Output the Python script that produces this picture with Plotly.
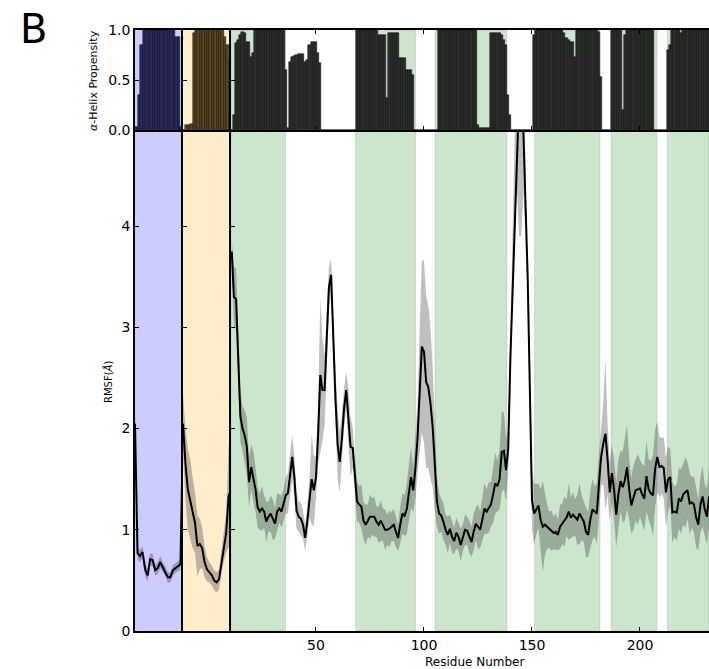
import plotly.graph_objects as go
from plotly.subplots import make_subplots

# ---------------- data ----------------
# Domain 1 (blue) and domain 2 (orange): positional index within each domain
dom1_idx = list(range(1, 21))
dom1_rmsf = [2.05, 0.77, 0.74, 0.78, 0.61, 0.55, 0.71, 0.70, 0.60, 0.62,
             0.68, 0.63, 0.59, 0.53, 0.53, 0.60, 0.62, 0.64, 0.66, 2.00]
dom1_sd = [0.10, 0.06, 0.06, 0.06, 0.07, 0.06, 0.06, 0.06, 0.05, 0.06,
           0.06, 0.05, 0.05, 0.05, 0.05, 0.05, 0.05, 0.05, 0.06, 0.10]
dom1_bar_idx = list(range(1, 20))
dom1_helix = [0.03, 0.35, 0.85, 1, 1, 1, 1, 1, 1, 1,
              1, 1, 1, 1, 1, 1, 0.93, 0.93, 0.03]

dom2_idx = list(range(1, 22))
dom2_rmsf = [2.05, 1.66, 1.40, 1.30, 1.17, 1.07, 0.84, 0.86, 0.82, 0.68,
             0.61, 0.58, 0.55, 0.50, 0.48, 0.51, 0.68, 0.84, 0.97, 1.33, 1.40]
dom2_sd = [0.30, 0.35, 0.40, 0.40, 0.35, 0.30, 0.30, 0.25, 0.20, 0.15,
           0.12, 0.10, 0.10, 0.10, 0.10, 0.10, 0.12, 0.15, 0.20, 0.50, 0.60]
dom2_bar_idx = list(range(1, 21))
dom2_helix = [0.0, 0.05, 0.05, 0.06, 0.97, 1, 1, 1, 1, 1,
              1, 1, 1, 1, 1, 1, 1, 0.93, 0.85, 0.70]

# Domain 3: residue numbers
residues = list(range(11, 233))
rmsf = [
    3.75, 3.30, 3.28, 2.78, 2.12, 2.00, 1.93, 1.82, 1.47, 1.62,
    1.52, 1.40, 1.22, 1.18, 1.21, 1.18, 1.08, 1.13, 1.16, 1.10,
    1.06, 1.18, 1.21, 1.18, 1.25, 1.34, 1.36, 1.55, 1.72, 1.52,
    1.19, 1.13, 1.11, 1.05, 0.92, 1.09, 1.32, 1.50, 1.39, 1.52,
    1.95, 2.53, 2.38, 2.38, 2.90, 3.40, 3.52, 2.87, 2.30, 1.85,
    1.67, 1.90, 2.20, 2.38, 2.12, 1.82, 1.81, 1.52, 1.28, 1.25,
    1.23, 1.09, 1.05, 1.09, 1.13, 1.13, 1.13, 1.08, 1.05, 1.09,
    1.05, 1.00, 1.00, 1.01, 1.03, 1.05, 0.98, 0.92, 1.05, 1.16,
    1.14, 1.20, 1.36, 1.52, 1.39, 1.60, 1.90, 2.38, 2.81, 2.76,
    2.46, 2.41, 2.25, 2.02, 1.59, 1.28, 1.16, 1.14, 1.08, 1.00,
    0.95, 1.01, 0.93, 0.89, 0.97, 0.93, 0.85, 0.92, 1.00, 0.99,
    0.93, 0.88, 0.98, 1.06, 1.03, 1.00, 1.10, 1.21, 1.18, 1.22,
    1.25, 1.35, 1.46, 1.43, 1.50, 1.77, 1.78, 1.59, 1.80, 2.70,
    3.50, 4.30, 5.00, 5.70, 5.90, 4.95, 4.20, 3.50, 2.40, 1.29,
    1.16, 1.20, 1.24, 1.10, 1.03, 1.05, 1.03, 1.00, 0.99, 0.97,
    0.98, 0.95, 1.03, 1.06, 1.08, 1.12, 1.18, 1.12, 1.15, 1.12,
    1.10, 1.16, 1.12, 1.08, 0.98, 0.95, 1.10, 1.20, 1.18, 1.16,
    1.45, 1.72, 1.85, 1.95, 1.69, 1.37, 1.56, 1.40, 1.15, 1.35,
    1.48, 1.42, 1.49, 1.62, 1.40, 1.24, 1.32, 1.39, 1.40, 1.41,
    1.35, 1.31, 1.53, 1.40, 1.36, 1.34, 1.60, 1.72, 1.62, 1.63,
    1.61, 1.37, 1.50, 1.52, 1.17, 1.18, 1.17, 1.31, 1.28, 1.35,
    1.37, 1.39, 1.26, 1.27, 1.25, 1.12, 1.05, 1.25, 1.33, 1.20,
    1.13, 1.33,
]
rmsf_sd = [
    0.12, 0.30, 0.30, 0.28, 0.25, 0.22, 0.25, 0.28, 0.25, 0.22,
    0.25, 0.22, 0.20, 0.18, 0.22, 0.16, 0.20, 0.15, 0.18, 0.20,
    0.15, 0.18, 0.14, 0.16, 0.15, 0.18, 0.20, 0.22, 0.22, 0.20,
    0.18, 0.15, 0.16, 0.14, 0.13, 0.15, 0.20, 0.45, 0.35, 0.20,
    0.30, 0.75, 0.50, 0.35, 0.30, 0.20, 0.15, 0.20, 0.30, 0.35,
    0.30, 0.25, 0.20, 0.18, 0.28, 0.30, 0.20, 0.20, 0.20, 0.18,
    0.22, 0.18, 0.20, 0.16, 0.22, 0.18, 0.20, 0.15, 0.18, 0.20,
    0.16, 0.20, 0.15, 0.18, 0.14, 0.16, 0.15, 0.13, 0.18, 0.20,
    0.20, 0.25, 0.28, 0.30, 0.22, 0.30, 0.35, 0.60, 0.85, 0.90,
    0.85, 0.80, 0.75, 0.60, 0.40, 0.25, 0.20, 0.16, 0.18, 0.15,
    0.18, 0.14, 0.16, 0.13, 0.15, 0.14, 0.16, 0.13, 0.15, 0.14,
    0.16, 0.15, 0.18, 0.16, 0.22, 0.18, 0.22, 0.25, 0.22, 0.25,
    0.22, 0.28, 0.30, 0.25, 0.30, 0.40, 0.38, 0.30, 0.25, 0.25,
    0.25, 0.30, 0.60, 1.80, 2.00, 0.60, 0.30, 0.25, 0.25, 0.30,
    0.30, 0.25, 0.22, 0.30, 0.45, 0.30, 0.22, 0.18, 0.20, 0.16,
    0.18, 0.15, 0.22, 0.20, 0.25, 0.18, 0.28, 0.20, 0.22, 0.18,
    0.25, 0.30, 0.22, 0.20, 0.25, 0.22, 0.28, 0.30, 0.25, 0.30,
    0.30, 0.28, 0.40, 0.75, 0.35, 0.30, 0.28, 0.30, 0.32, 0.35,
    0.30, 0.35, 0.40, 0.42, 0.30, 0.28, 0.32, 0.30, 0.35, 0.28,
    0.30, 0.32, 0.35, 0.30, 0.32, 0.40, 0.38, 0.35, 0.30, 0.28,
    0.30, 0.35, 0.32, 0.28, 0.30, 0.25, 0.28, 0.30, 0.32, 0.30,
    0.35, 0.28, 0.30, 0.25, 0.28, 0.30, 0.25, 0.28, 0.30, 0.25,
    0.28, 0.30,
]
helix = [
    0.00, 0.15, 0.87, 0.90, 0.95, 0.98, 0.97, 0.88, 0.88, 0.73,
    0.77, 1, 1, 1, 1, 1, 1, 1, 1, 1,
    1, 1, 1, 1, 1, 0.60, 0.02, 0.68, 0.73, 0.74,
    0.75, 0.76, 0.76, 0.76, 0.68, 0.70, 0.85, 0.88, 0.88, 0.88,
    0.77, 0.67, 0, 0, 0, 0, 0, 0, 0, 0,
    0, 0, 0, 0, 0, 0, 0, 0, 1, 1,
    1, 1, 1, 1, 1, 1, 1, 1, 0.95, 0.95,
    0.95, 0.95, 0.32, 0.97, 0.97, 0.97, 0.97, 0.97, 0.72, 0.72,
    0.72, 0.60, 0.60, 0.60, 0.55, 0, 0, 0, 0, 0,
    0, 0, 0, 0, 0, 0, 1, 1, 1, 1,
    1, 1, 1, 1, 1, 1, 1, 1, 1, 1,
    1, 1, 1, 1, 0.05, 0.02, 0.02, 0.02, 0.02, 0.02,
    0.97, 0.97, 0.97, 0.97, 0.97, 0.95, 0.90, 0.85, 0.35, 0.15,
    0, 0, 0, 0, 0, 0, 0, 0, 0, 0,
    0.95, 1, 1, 1, 1, 1, 1, 1, 1, 1,
    1, 1, 1, 1, 0.97, 0.92, 0.90, 0.88, 0.88, 0.73,
    1, 1, 1, 1, 1, 1, 1, 1, 1, 1,
    0.98, 0.53, 0, 0, 0, 0, 1, 1, 1, 1,
    1, 0.20, 0.95, 1, 1, 1, 1, 1, 1, 1,
    1, 1, 1, 1, 1, 1, 0, 0, 0, 0,
    0, 0, 0.80, 0.85, 1, 1, 1, 1, 0.97, 1,
    1, 1, 1, 1, 1, 1, 1, 1, 1, 1,
    1, 1,
]
# helical segments of domain 3 (residue ranges shaded green)
helix_start = [10.0, 68.3, 105.1, 151.2, 186.6, 212.7]
helix_end = [35.9, 96.1, 138.4, 181.5, 207.9, 240.0]

x_ticks = [50, 100, 150, 200]
rmsf_ticks = [0, 1, 2, 3, 4]
helix_ticks = [0.0, 0.5, 1.0]
helix_ticklabels = ["0.0", "0.5", "1.0"]

# ---------------- styling ----------------
X3_RANGE = [10.65, 231.95]
RMSF_RANGE = [0, 4.95]
BLUE_BG = "#ccccff"
ORANGE_BG = "#ffedcc"
GREEN_BG = "#cce5cc"
BAND = "rgba(0,0,0,0.25)"
FONT = "DejaVu Sans"

fig = make_subplots(rows=2, cols=3, column_widths=[48, 48, 478],
                    row_heights=[100, 501], horizontal_spacing=0,
                    vertical_spacing=0)


def band_poly(xs, m, s):
    up = [a + b for a, b in zip(m, s)]
    lo = [a - b for a, b in zip(m, s)]
    return list(xs) + list(xs)[::-1], up + lo[::-1]


# top row bars
fig.add_trace(go.Bar(x=dom1_bar_idx, y=dom1_helix, width=1, offset=0,
                     marker=dict(color="#2b2b66", line=dict(color="black", width=0.5))),
              row=1, col=1)
fig.add_trace(go.Bar(x=dom2_bar_idx, y=dom2_helix, width=1, offset=0,
                     marker=dict(color="#5e4824", line=dict(color="black", width=0.5))),
              row=1, col=2)
fig.add_trace(go.Bar(x=residues, y=helix, width=1,
                     marker=dict(color="#303030", line=dict(color="black", width=0.5))),
              row=1, col=3)

# bottom row: band + mean line
for c, (xs, m, s) in enumerate([(dom1_idx, dom1_rmsf, dom1_sd),
                                (dom2_idx, dom2_rmsf, dom2_sd),
                                (residues, rmsf, rmsf_sd)], start=1):
    bx, by = band_poly(xs, m, s)
    fig.add_trace(go.Scatter(x=bx, y=by, fill="toself", fillcolor=BAND,
                             mode="lines", line=dict(width=0), hoverinfo="skip"),
                  row=2, col=c)
    fig.add_trace(go.Scatter(x=xs, y=m, mode="lines",
                             line=dict(color="black", width=2)),
                  row=2, col=c)

# background shading
shapes = []
for xr, yr in [("x", "y"), ("x4", "y4")]:
    shapes.append(dict(type="rect", xref=xr + " domain", yref=yr + " domain",
                       x0=0, x1=1, y0=0, y1=1, fillcolor=BLUE_BG,
                       line=dict(width=0), layer="below"))
for xr, yr in [("x2", "y2"), ("x5", "y5")]:
    shapes.append(dict(type="rect", xref=xr + " domain", yref=yr + " domain",
                       x0=0, x1=1, y0=0, y1=1, fillcolor=ORANGE_BG,
                       line=dict(width=0), layer="below"))
for xr, yr in [("x3", "y3"), ("x6", "y6")]:
    for a, b in zip(helix_start, helix_end):
        shapes.append(dict(type="rect", xref=xr, yref=yr + " domain",
                           x0=max(a, X3_RANGE[0]), x1=min(b, X3_RANGE[1]),
                           y0=0, y1=1, fillcolor=GREEN_BG,
                           line=dict(width=1, color="rgba(0,0,0,0.10)"),
                           layer="below"))
fig.update_layout(shapes=shapes)

tick_common = dict(ticklen=4, tickwidth=1, tickcolor="black",
                   showgrid=False, zeroline=False, linecolor="black",
                   linewidth=1.5,
                   tickfont=dict(family=FONT, size=14, color="black"))

# x axes: top row draws both panel borders (its bottom = panel divider)
for c, rng in [(1, [1, 20]), (2, [1, 21])]:
    fig.update_xaxes(row=1, col=c, range=rng, showline=True, mirror=True,
                     ticks="", showticklabels=False, **tick_common)
    fig.update_xaxes(row=2, col=c, range=rng, showline=True, mirror=False,
                     ticks="", showticklabels=False, **tick_common)
fig.update_xaxes(row=1, col=3, range=X3_RANGE, tickvals=x_ticks,
                 showline=True, mirror="ticks", ticks="inside",
                 showticklabels=False, **tick_common)
fig.update_xaxes(row=2, col=3, range=X3_RANGE, tickvals=x_ticks,
                 showline=True, mirror=False, ticks="inside",
                 showticklabels=True, **tick_common)

# y axes: each column draws only its own left spine
fig.update_yaxes(row=1, col=1, range=[0, 1], tickvals=helix_ticks,
                 ticktext=helix_ticklabels, showline=True, mirror=False,
                 ticks="inside", **tick_common)
fig.update_yaxes(row=2, col=1, range=RMSF_RANGE, tickvals=rmsf_ticks,
                 showline=True, mirror=False, ticks="inside", **tick_common)
for c in (2, 3):
    fig.update_yaxes(row=1, col=c, range=[0, 1], tickvals=helix_ticks,
                     showticklabels=False, showline=True, mirror=False,
                     ticks="inside", **tick_common)
    fig.update_yaxes(row=2, col=c, range=RMSF_RANGE, tickvals=rmsf_ticks,
                     showticklabels=False, showline=True, mirror=False,
                     ticks="inside", **tick_common)

W, H = 709, 669
ML, MR, MT, MB = 135, 0, 30, 38
PW, PH = W - ML - MR, H - MT - MB


def px(x):
    return (x - ML) / PW


def py(y):
    return (H - MB - y) / PH


annotations = [
    dict(text="B", x=px(33), y=py(29), xref="paper", yref="paper",
         showarrow=False, font=dict(family=FONT, size=40, color="black"),
         xanchor="center", yanchor="middle"),
    dict(text="<i>α</i>-Helix Propensity", x=px(93), y=py(81), xref="paper",
         yref="paper", showarrow=False, textangle=-90,
         font=dict(family=FONT, size=11, color="black"),
         xanchor="center", yanchor="middle"),
    dict(text="RMSF(<i>Å</i>)", x=px(108), y=py(382), xref="paper",
         yref="paper", showarrow=False, textangle=-90,
         font=dict(family=FONT, size=10, color="black"),
         xanchor="center", yanchor="middle"),
    dict(text="Residue Number", x=px(474), y=py(662), xref="paper",
         yref="paper", showarrow=False,
         font=dict(family=FONT, size=12, color="black"),
         xanchor="center", yanchor="middle"),
]

fig.update_layout(width=W, height=H, margin=dict(l=ML, r=MR, t=MT, b=MB),
                  plot_bgcolor="white", paper_bgcolor="white",
                  showlegend=False, bargap=0, annotations=annotations,
                  font=dict(family=FONT, color="black"))

fig.write_html("out.html", config={"displayModeBar": False},
               post_script="document.body.style.margin='0';document.body.style.overflow='hidden';")
